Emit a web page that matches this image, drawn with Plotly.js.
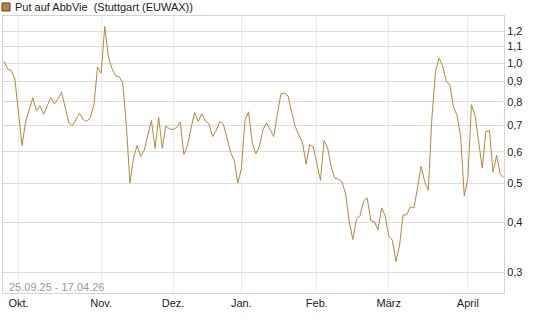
<!DOCTYPE html>
<html>
<head>
<meta charset="utf-8">
<script src="https://cdn.plot.ly/plotly-3.0.1.min.js"></script>
<style>html,body{margin:0;padding:0;background:#fff;}#chart{width:545px;height:327px;}</style>
</head>
<body>
<div id="chart"></div>
<script>
// Trading days at Börse Stuttgart from 25.09.2025 to 17.04.2026 (weekends and exchange holidays skipped)
const startDate = '2025-09-25';
const endDate = '2026-04-17';
const holidays = ['2025-12-24','2025-12-25','2025-12-26','2025-12-31','2026-01-01','2026-04-03','2026-04-06'];

// Closing prices (EUR), one per trading day
const prices = [
  1.01, 0.966, 0.958, 0.913, 0.752, 0.622, 0.714, 0.764, 0.819, 0.760,
  0.782, 0.745, 0.784, 0.820, 0.791, 0.814, 0.845, 0.773, 0.709, 0.697,
  0.722, 0.749, 0.722, 0.714, 0.731, 0.787, 0.977, 0.944, 1.236, 1.035,
  0.969, 0.929, 0.926, 0.892, 0.702, 0.501, 0.578, 0.622, 0.584, 0.605,
  0.661, 0.718, 0.612, 0.731, 0.612, 0.697, 0.684, 0.682, 0.690, 0.712,
  0.591, 0.622, 0.688, 0.752, 0.714, 0.747, 0.716, 0.705, 0.655, 0.678,
  0.714, 0.703, 0.650, 0.598, 0.571, 0.501, 0.543, 0.718, 0.755, 0.634,
  0.593, 0.617, 0.682, 0.709, 0.682, 0.655, 0.743, 0.838, 0.841, 0.828,
  0.753, 0.693, 0.661, 0.633, 0.558, 0.625, 0.617, 0.558, 0.509, 0.640,
  0.613, 0.549, 0.515, 0.512, 0.504, 0.470, 0.401, 0.362, 0.406, 0.415,
  0.452, 0.460, 0.403, 0.401, 0.383, 0.434, 0.415, 0.369, 0.360, 0.319,
  0.350, 0.417, 0.417, 0.437, 0.434, 0.487, 0.552, 0.504, 0.481, 0.730,
  0.955, 1.029, 0.983, 0.902, 0.882, 0.777, 0.739, 0.653, 0.465, 0.515,
  0.787, 0.739, 0.633, 0.546, 0.674, 0.678, 0.533, 0.588, 0.527, 0.518
];

const monthTickDates = ['2025-10-01','2025-11-03','2025-12-01','2026-01-02','2026-02-02','2026-03-02','2026-04-01'];
const monthTickLabels = ['Okt.','Nov.','Dez.','Jan.','Feb.','März','April'];

const yTickValues = [0.3, 0.4, 0.5, 0.6, 0.7, 0.8, 0.9, 1.0, 1.1, 1.2];
const yTickLabels = ['0,3','0,4','0,5','0,6','0,7','0,8','0,9','1,0','1,1','1,2'];

const titleText = 'Put auf AbbVie\u00a0 (Stuttgart (EUWAX))';
const rangeText = '25.09.25 - 17.04.26';

function tradingDays(s, e, hol) {
  const out = [];
  const d = new Date(s + 'T12:00:00Z');
  const end = new Date(e + 'T12:00:00Z');
  while (d <= end) {
    const iso = d.toISOString().slice(0, 10);
    const wd = d.getUTCDay();
    if (wd !== 0 && wd !== 6 && hol.indexOf(iso) < 0) out.push(iso);
    d.setUTCDate(d.getUTCDate() + 1);
  }
  return out;
}
const dates = tradingDays(startDate, endDate, holidays);

const lineColor = '#b8863b';
const font = 'Liberation Sans, Arial, sans-serif';

const trace = {
  x: dates,
  y: prices,
  type: 'scatter',
  mode: 'lines',
  line: {color: lineColor, width: 1},
  hoverinfo: 'skip'
};

const layout = {
  width: 545, height: 327,
  margin: {l: 3, r: 41, t: 16, b: 34, pad: 0},
  paper_bgcolor: '#fff', plot_bgcolor: '#fff',
  showlegend: false,
  font: {family: font, size: 11, color: '#222'},
  xaxis: {
    type: 'category',
    range: [-0.3, dates.length - 0.95],
    tickmode: 'array',
    tickvals: monthTickDates,
    ticktext: monthTickLabels,
    showgrid: true, gridcolor: '#ececec', gridwidth: 1,
    showline: true, linecolor: '#d4d4d4', linewidth: 1, mirror: true,
    ticks: '', zeroline: false,
    tickfont: {family: font, size: 11, color: '#222'}
  },
  yaxis: {
    type: 'log',
    side: 'right',
    range: [Math.log10(0.2658), Math.log10(1.312)],
    tickmode: 'array',
    tickvals: yTickValues,
    ticktext: yTickLabels,
    showgrid: true, gridcolor: '#dcdcdc', gridwidth: 1,
    showline: true, linecolor: '#d4d4d4', linewidth: 1, mirror: true,
    ticks: '', zeroline: false,
    tickfont: {family: font, size: 11, color: '#222'}
  },
  shapes: [{
    type: 'rect', xref: 'paper', yref: 'paper',
    x0: -0.002, x1: 0.014, y0: 1.018, y1: 1.047,
    fillcolor: lineColor, line: {color: '#5a4326', width: 1}
  }],
  annotations: [
    {text: titleText, xref: 'paper', yref: 'paper', x: 0.019, y: 1.031,
     xanchor: 'left', yanchor: 'middle', showarrow: false,
     font: {family: font, size: 11, color: '#222'}},
    {text: rangeText, xref: 'paper', yref: 'paper', x: 0.008, y: 0.02,
     xanchor: 'left', yanchor: 'middle', showarrow: false,
     font: {family: font, size: 11, color: '#9a9a9a'}}
  ]
};

Plotly.newPlot('chart', [trace], layout, {staticPlot: true, displayModeBar: false});
</script>
</body>
</html>
